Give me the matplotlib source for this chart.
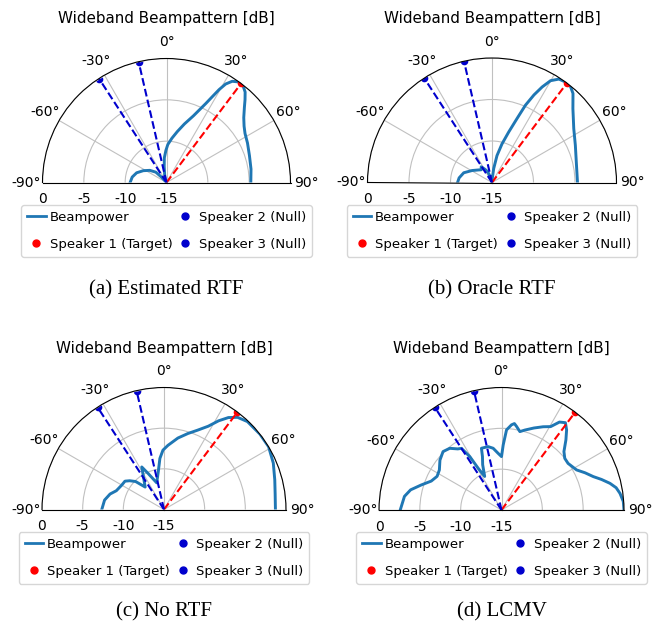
import numpy as np
import matplotlib
matplotlib.use('Agg')
import matplotlib.pyplot as plt
from matplotlib.lines import Line2D
from matplotlib.markers import MarkerStyle
from matplotlib.transforms import Affine2D

plt.rcParams['axes.unicode_minus'] = False
plt.rcParams['font.family'] = ['DejaVu Sans']

W, H = 660, 626

theta_ticks = [-90, -60, -30, 0, 30, 60, 90]
theta_tick_labels = ['-90°', '-60°', '-30°', '0°', '30°', '60°', '90°']
r_ticks = [-15, -10, -5, 0]
r_tick_labels = ['-15', '-10', '-5', '0']
r_min, r_max = -15, 0

target_deg = 37
null2_deg = -13
null3_deg = -33

title_text = 'Wideband Beampattern [dB]'
legend_labels = ['Beampower', 'Speaker 1 (Target)', 'Speaker 2 (Null)', 'Speaker 3 (Null)']
captions = ['(a) Estimated RTF', '(b) Oracle RTF', '(c) No RTF', '(d) LCMV']

# (a) Estimated RTF
theta_a = [-90, -81, -72, -63, -54, -46, -43, -40, -30, -20, -13, -8, -5, -1, 2, 7, 12, 17, 22,
           24.5, 26.5, 28, 29.5, 31, 33, 35.5, 38.5, 41, 43.5, 46, 50, 54, 58, 64, 72, 81, 90]
r_a = [-10.6, -10.8, -11.2, -11.85, -12.5, -13.2, -14.1, -15, -15, -14.6, -14.0, -13.0, -12.0,
       -11.1, -10.4, -9.6, -8.7, -7.6, -6.3, -5.3, -4.3, -3.3, -2.1, -1.1, -0.4, -0.05, -0.1,
       -0.5, -1.2, -1.9, -2.8, -3.4, -3.8, -4.1, -4.45, -4.65, -4.8]

# (b) Oracle RTF
theta_b = [-90, -82, -71, -59, -46.5, -40, -34.5, -28, -21.5, -15, -8, 0, 4, 7, 10.5, 14.5,
           18.3, 21.4, 23.4, 25.6, 27.7, 29.9, 32.9, 36.2, 39.4, 42.3, 47.6, 56.6, 65.9, 76.4, 90]
r_b = [-10.85, -11.0, -11.4, -12.2, -12.8, -13.0, -12.7, -13.2, -13.6, -14.4, -15, -15, -14.5,
       -13.3, -11.7, -10.2, -8.6, -6.7, -4.85, -3.3, -2.0, -0.85, -0.16, 0, -0.08, -0.5, -1.8,
       -3.2, -4.0, -4.55, -4.7]

# (c) No RTF
theta_c = [-90, -81, -74, -68.5, -60, -54, -50, -45.4, -40, -27.6, -23.6, -15.3, -8.6, -4.6,
           -1, 3.5, 11, 17.5, 23, 28, 31.6, 35, 38.6, 43.5, 51.8, 59, 67, 75, 82, 90]
r_c = [-7.35, -7.6, -8.1, -8.7, -9.0, -9.07, -9.5, -10.1, -11.4, -9.1, -10.2, -11.6, -10.3,
       -8.7, -7.7, -7.1, -6.05, -5.2, -4.4, -3.4, -2.2, -1.2, -0.5, -0.1, 0, 0, -0.4, -0.9,
       -1.2, -1.3]

# (d) LCMV
theta_d = [-90, -82, -77.5, -72.7, -67.6, -62.4, -57.2, -51, -45, -40, -35.6, -33, -30.7,
           -29.2, -26.6, -22.6, -19.6, -18, -11.9, -7.7, -3.4, 0, 1.5, 3.6, 6.7, 8.5, 10.2,
           13.2, 16.3, 21.6, 26.6, 30.5, 33.4, 36.2, 39.1, 42.6, 46.9, 50.8, 55, 61.9, 66,
           70, 73, 76.2, 79, 82, 86, 90]
r_d = [-2.6, -3.0, -3.6, -4.7, -5.7, -6.1, -5.95, -5.3, -4.88, -5.14, -5.8, -6.0, -7.4,
       -9.15, -10.4, -9.0, -8.05, -7.05, -7.07, -7.37, -8.05, -8.46, -7.03, -5.17, -4.5,
       -4.3, -4.6, -5.14, -4.8, -4.2, -3.6, -3.15, -2.1, -1.75, -2.36, -3.35, -4.53, -5.0,
       -5.05, -4.58, -3.8, -3.04, -2.2, -1.32, -0.7, -0.35, -0.05, 0]

panels = [
    (theta_a, r_a, (166.5, 182.5, 124.0)),
    (theta_b, r_b, (492.0, 182.5, 124.5)),
    (theta_c, r_c, (164.0, 509.5, 122.0)),
    (theta_d, r_d, (501.5, 510.0, 122.5)),
]
title_base_y = [23.0, 23.0, 352.5, 352.5]
legend_top_y = [205.0, 205.0, 532.0, 532.0]
caption_y = [290.0, 290.0, 612.0, 612.0]

beam_color = '#1f77b4'
target_color = 'red'
null_color = 'mediumblue'

fig = plt.figure(figsize=(W / 100, H / 100), dpi=100)

for i, (th, rr, (cx, cy, R)) in enumerate(panels):
    rect = [(cx - R) / W, 1 - (cy + 0.5 * R) / H, 2 * R / W, 2 * R / H]
    ax = fig.add_axes(rect, projection='polar')
    ax.set_theta_zero_location('N')
    ax.set_theta_direction(-1)
    ax.set_thetamin(-90)
    ax.set_thetamax(90)
    ax.set_rlim(r_min, r_max)
    ax.set_rticks(r_ticks)
    ax.set_yticklabels(r_tick_labels, fontsize=10.3)
    ax.set_thetagrids(theta_ticks, theta_tick_labels, fontsize=10)
    ax.tick_params(axis='x', pad=1.2)
    ax.grid(True, color='#c0c0c0', lw=0.8)

    th_rad = np.deg2rad(np.array(th, dtype=float))
    r_arr = np.clip(np.array(rr, dtype=float), r_min, r_max)
    ax.plot(th_rad, r_arr, color=beam_color, lw=2.1)

    handles = [Line2D([], [], color=beam_color, lw=2.0)]
    for ang, col in [(target_deg, target_color),
                     (null2_deg, null_color),
                     (null3_deg, null_color)]:
        t = np.deg2rad(ang)
        ax.plot([t, t], [r_min, r_max], ls='--', color=col, lw=1.5)
        # marker at the rim, clipped by the outer circle (half dot)
        ms_half = MarkerStyle('o', fillstyle='bottom',
                              transform=Affine2D().rotate_deg(-ang))
        ax.plot([t], [r_max], ls='none', marker=ms_half, ms=5.5, mew=0,
                markerfacecolor=col, markerfacecoloralt='none')
        handles.append(Line2D([], [], ls='none', marker='o', ms=5, color=col))

    fig.text(cx / W, 1 - title_base_y[i] / H, title_text, ha='center', va='baseline',
             fontsize=10.9)

    ax.legend(handles, legend_labels, loc='upper center',
              bbox_to_anchor=(cx / W, 1 - legend_top_y[i] / H),
              bbox_transform=fig.transFigure, ncol=2, fontsize=9.5,
              handlelength=1.4, handletextpad=0.3, columnspacing=0.3,
              labelspacing=1.05, borderpad=0.45, borderaxespad=0.0)

    fig.text(cx / W, 1 - caption_y[i] / H, captions[i], ha='center', va='center',
             fontsize=15, family=['Liberation Serif'])

fig.savefig('out.png', dpi=100)
